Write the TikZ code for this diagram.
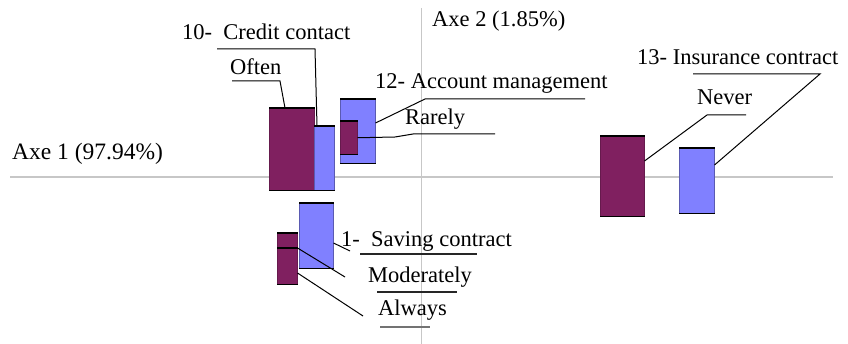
\documentclass[tikz,border=0pt]{standalone}
\usepackage{fontspec}
\setmainfont{Liberation Serif}
\definecolor{plum}{RGB}{128,32,96}
\definecolor{periwinkle}{RGB}{128,128,255}
\begin{document}
\begin{tikzpicture}[x=1pt,y=-1pt,
  axis/.style={draw=black!22, line width=1.3pt},
  lbl/.style={inner sep=0pt, anchor=base west, font=\fontsize{22.5}{26}\selectfont},
  barbase/.style={inner sep=0pt, anchor=north west, line width=0.5pt},
  pbar/.style={barbase, fill=plum, draw=plum!80!black},
  bbar/.style={barbase, fill=periwinkle, draw=periwinkle!70!black},
  baredge/.style={draw=black, line width=1.6pt},
  leader/.style={draw=black, line width=1pt},
  uline/.style={draw=black!85, line width=1.2pt}]
\useasboundingbox (0,0) rectangle (848,344);

% axes
\coordinate (hx0) at (10,177);
\coordinate (hx1) at (833,177);
\coordinate (vy0) at (421.5,8);
\coordinate (vy1) at (421.5,344);
\draw[axis] (hx0) -- (hx1);
\draw[axis] (vy0) -- (vy1);
\node[lbl, font=\fontsize{23.5}{27}\selectfont] (ax1) at (12,160) {Axe 1 (97.94\%)};
\node[lbl] (ax2) at (432,27) {Axe 2 (1.85\%)};

% bars
\node[pbar, minimum width=45pt, minimum height=82pt] (p10) at (269,108) {};
\node[bbar, minimum width=20pt, minimum height=64pt] (b10) at (314,126) {};
\node[bbar, minimum width=35pt, minimum height=64pt] (b12) at (340,99) {};
\node[pbar, minimum width=17pt, minimum height=33pt] (p12) at (340,121) {};
\node[pbar, minimum width=44pt, minimum height=80pt] (p13) at (600,136) {};
\node[bbar, minimum width=35pt, minimum height=65pt] (b13) at (679,148) {};
\node[bbar, minimum width=34pt, minimum height=65pt] (b1) at (299,203) {};
\node[pbar, minimum width=20pt, minimum height=15pt] (p1a) at (277,233) {};
\node[pbar, minimum width=20pt, minimum height=36pt] (p1b) at (277,248) {};

% black top and bottom edges
\foreach \b in {p10,b10,b12,p12,p13,b13,b1,p1a,p1b}{
  \draw[baredge] (\b.north west) -- (\b.north east);
  \draw[baredge] (\b.south west) -- (\b.south east);
}

% labels
\node[lbl] (t10) at (182,40) {10-\ \ Credit contact};
\node[lbl] (toften) at (230,75) {Often};
\node[lbl] (t12) at (375,89) {12- Account management};
\node[lbl] (trarely) at (405,125) {Rarely};
\node[lbl] (t13) at (637,65) {13- Insurance contract};
\node[lbl] (tnever) at (697,105) {Never};
\node[lbl] (t1) at (341,247) {1-\ \ Saving contract};
\node[lbl] (tmod) at (368,283) {Moderately};
\node[lbl] (talw) at (378,316) {Always};

% leader lines
\coordinate (c10a) at (217,49);
\coordinate (c10b) at (315,49);
\draw[leader] (c10a) -- (c10b) -- ([xshift=3pt]b10.north west);

\coordinate (coa) at (232,81);
\coordinate (cob) at (280,81);
\draw[leader] (coa) -- (cob) -- (285,108);

\coordinate (c12a) at (425,99);
\coordinate (c12b) at (585,99);
\draw[leader] ([yshift=-24pt]b12.north east) -- (c12a) -- (c12b);

\coordinate (cra) at (395,137);
\coordinate (crb) at (413,134);
\coordinate (crc) at (495,134);
\draw[leader] (p12.east) -- (cra) -- (crb) -- (crc);

\coordinate (c13a) at (693,74);
\coordinate (c13b) at (820,74);
\draw[leader] (c13a) -- (c13b) -- ([yshift=-17pt]b13.north east);

\coordinate (cna) at (746,115);
\coordinate (cnb) at (707,115);
\draw[leader] (cna) -- (cnb) -- ([yshift=-25pt]p13.north east);

\coordinate (c1a) at (350,251);
\draw[leader] ([yshift=-40pt]b1.north east) -- (c1a);
\coordinate (u1a) at (360,254);
\coordinate (u1b) at (477,254);
\draw[uline] (u1a) -- (u1b);

\coordinate (cma) at (345,277);
\draw[leader] (p1b.north east) -- (cma);
\coordinate (uma) at (377,292);
\coordinate (umb) at (457,292);
\draw[uline] (uma) -- (umb);

\coordinate (caa) at (363,316);
\draw[leader] ([yshift=-25pt]p1b.north east) -- (caa);
\coordinate (uaa) at (380,327);
\coordinate (uab) at (430,327);
\draw[uline, draw=black!55] (uaa) -- (uab);
\end{tikzpicture}
\end{document}
